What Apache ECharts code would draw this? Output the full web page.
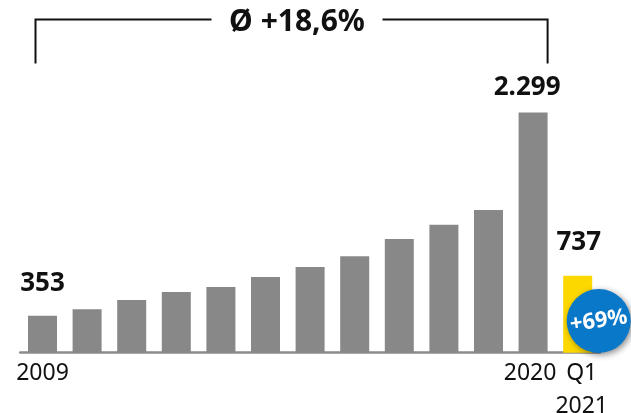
<!DOCTYPE html>
<html>
<head>
<meta charset="utf-8">
<script src="https://cdn.jsdelivr.net/npm/echarts@6/dist/echarts.min.js"></script>
<style>
html,body{margin:0;padding:0;background:#fff;}
#chart{width:631px;height:413px;}
</style>
</head>
<body>
<div id="chart"></div>
<script>
const categories = ['2009','2010','2011','2012','2013','2014','2015','2016','2017','2018','2019','2020','Q1\n2021'];
const values = [353, 415, 504, 581, 629, 724, 820, 922, 1088, 1225, 1366, 2299, 737];
const labelledIdx = [0, 11, 12];
const tickShown = [0, 11, 12];
const cagrText = 'Ø +18,6%';
const growthText = '+69%';
const growthAnchor = 303;

const FONT = 'Noto Sans';
function fmt(v){ return String(v).replace(/\B(?=(\d{3})+(?!\d))/g, '.'); }

const labelTweaks = {
  0: {distance: 19, offset: [0, 0]},
  11: {distance: 12, offset: [-6, 0]},
  12: {distance: 20, offset: [1, 0]}
};

const barData = values.map((v, i) => {
  const item = {
    value: v,
    itemStyle: { color: i === values.length - 1 ? '#FDD800' : '#888888' }
  };
  if (labelledIdx.indexOf(i) >= 0) {
    item.label = {
      show: true, position: 'top',
      distance: labelTweaks[i].distance,
      offset: labelTweaks[i].offset,
      formatter: p => fmt(p.value),
      fontFamily: FONT, fontWeight: 'bold', fontSize: 26, color: '#111'
    };
  } else {
    item.label = { show: false };
  }
  return item;
});

const chart = echarts.init(document.getElementById('chart'));
chart.setOption({
  animation: false,
  grid: { left: 20.2, right: 31, top: 91.5, bottom: 60.3, containLabel: false, outerBoundsMode: 'none' },
  xAxis: {
    type: 'category',
    data: categories,
    axisLine: { show: true, lineStyle: { color: '#8c8c8c', width: 2.5 } },
    axisTick: { show: false },
    axisLabel: {
      interval: 0,
      showMaxLabel: true,
      showMinLabel: true,
      hideOverlap: false,
      margin: 4,
      color: '#111',
      fontFamily: FONT,
      fontSize: 23,
      lineHeight: 33,
      formatter: (val, idx) => {
        if (tickShown.indexOf(idx) < 0) return '';
        if (idx === 11) return '{l|' + val + '}';
        if (idx === 12) return '{r|Q1}\n{r|2021}';
        return '{n|' + val + '}';
      },
      rich: {
        n: { fontFamily: FONT, fontSize: 23, lineHeight: 33, color: '#111' },
        l: { fontFamily: FONT, fontSize: 23, lineHeight: 33, color: '#111', padding: [0, 6, 0, 0] },
        r: { fontFamily: FONT, fontSize: 23, lineHeight: 33, color: '#111', padding: [0, 0, 0, 8] }
      }
    }
  },
  yAxis: { type: 'value', min: 0, max: 2500, show: false, splitLine: { show: false } },
  series: [{
    type: 'bar',
    data: barData,
    barWidth: 29,
    markPoint: {
      symbol: 'circle',
      symbolSize: 64,
      symbolOffset: [21, 0],
      itemStyle: { color: '#0a78c8', shadowBlur: 6, shadowColor: 'rgba(0,0,0,0.45)', shadowOffsetX: 2, shadowOffsetY: 2 },
      label: {
        show: true, position: 'inside', formatter: growthText,
        color: '#fff', fontFamily: FONT, fontWeight: 'bold', fontSize: 22, rotate: 8
      },
      data: [{ coord: [12, growthAnchor] }]
    }
  }]
});

// bracket annotation spanning 2009..2020
const pL = chart.convertToPixel({xAxisIndex: 0}, 0);
const pR = chart.convertToPixel({xAxisIndex: 0}, 11);
const xL = pL - 7, xR = pR + 14.5;
const yTop = 19.5, yBot = 63.5;
const txtX = 297, gapL = 211.5, gapR = 382.5;
chart.setOption({
  graphic: [
    { type: 'polyline', shape: { points: [[xL, yBot], [xL, yTop], [gapL, yTop]] }, style: { stroke: '#111', lineWidth: 2, fill: null } },
    { type: 'polyline', shape: { points: [[gapR, yTop], [xR, yTop], [xR, yBot]] }, style: { stroke: '#111', lineWidth: 2, fill: null } },
    { type: 'text', x: txtX, y: 22, style: { text: cagrText, fontFamily: FONT, fontWeight: 'bold', fontSize: 30, fill: '#111', align: 'center', verticalAlign: 'middle' } }
  ]
});
</script>
</body>
</html>
